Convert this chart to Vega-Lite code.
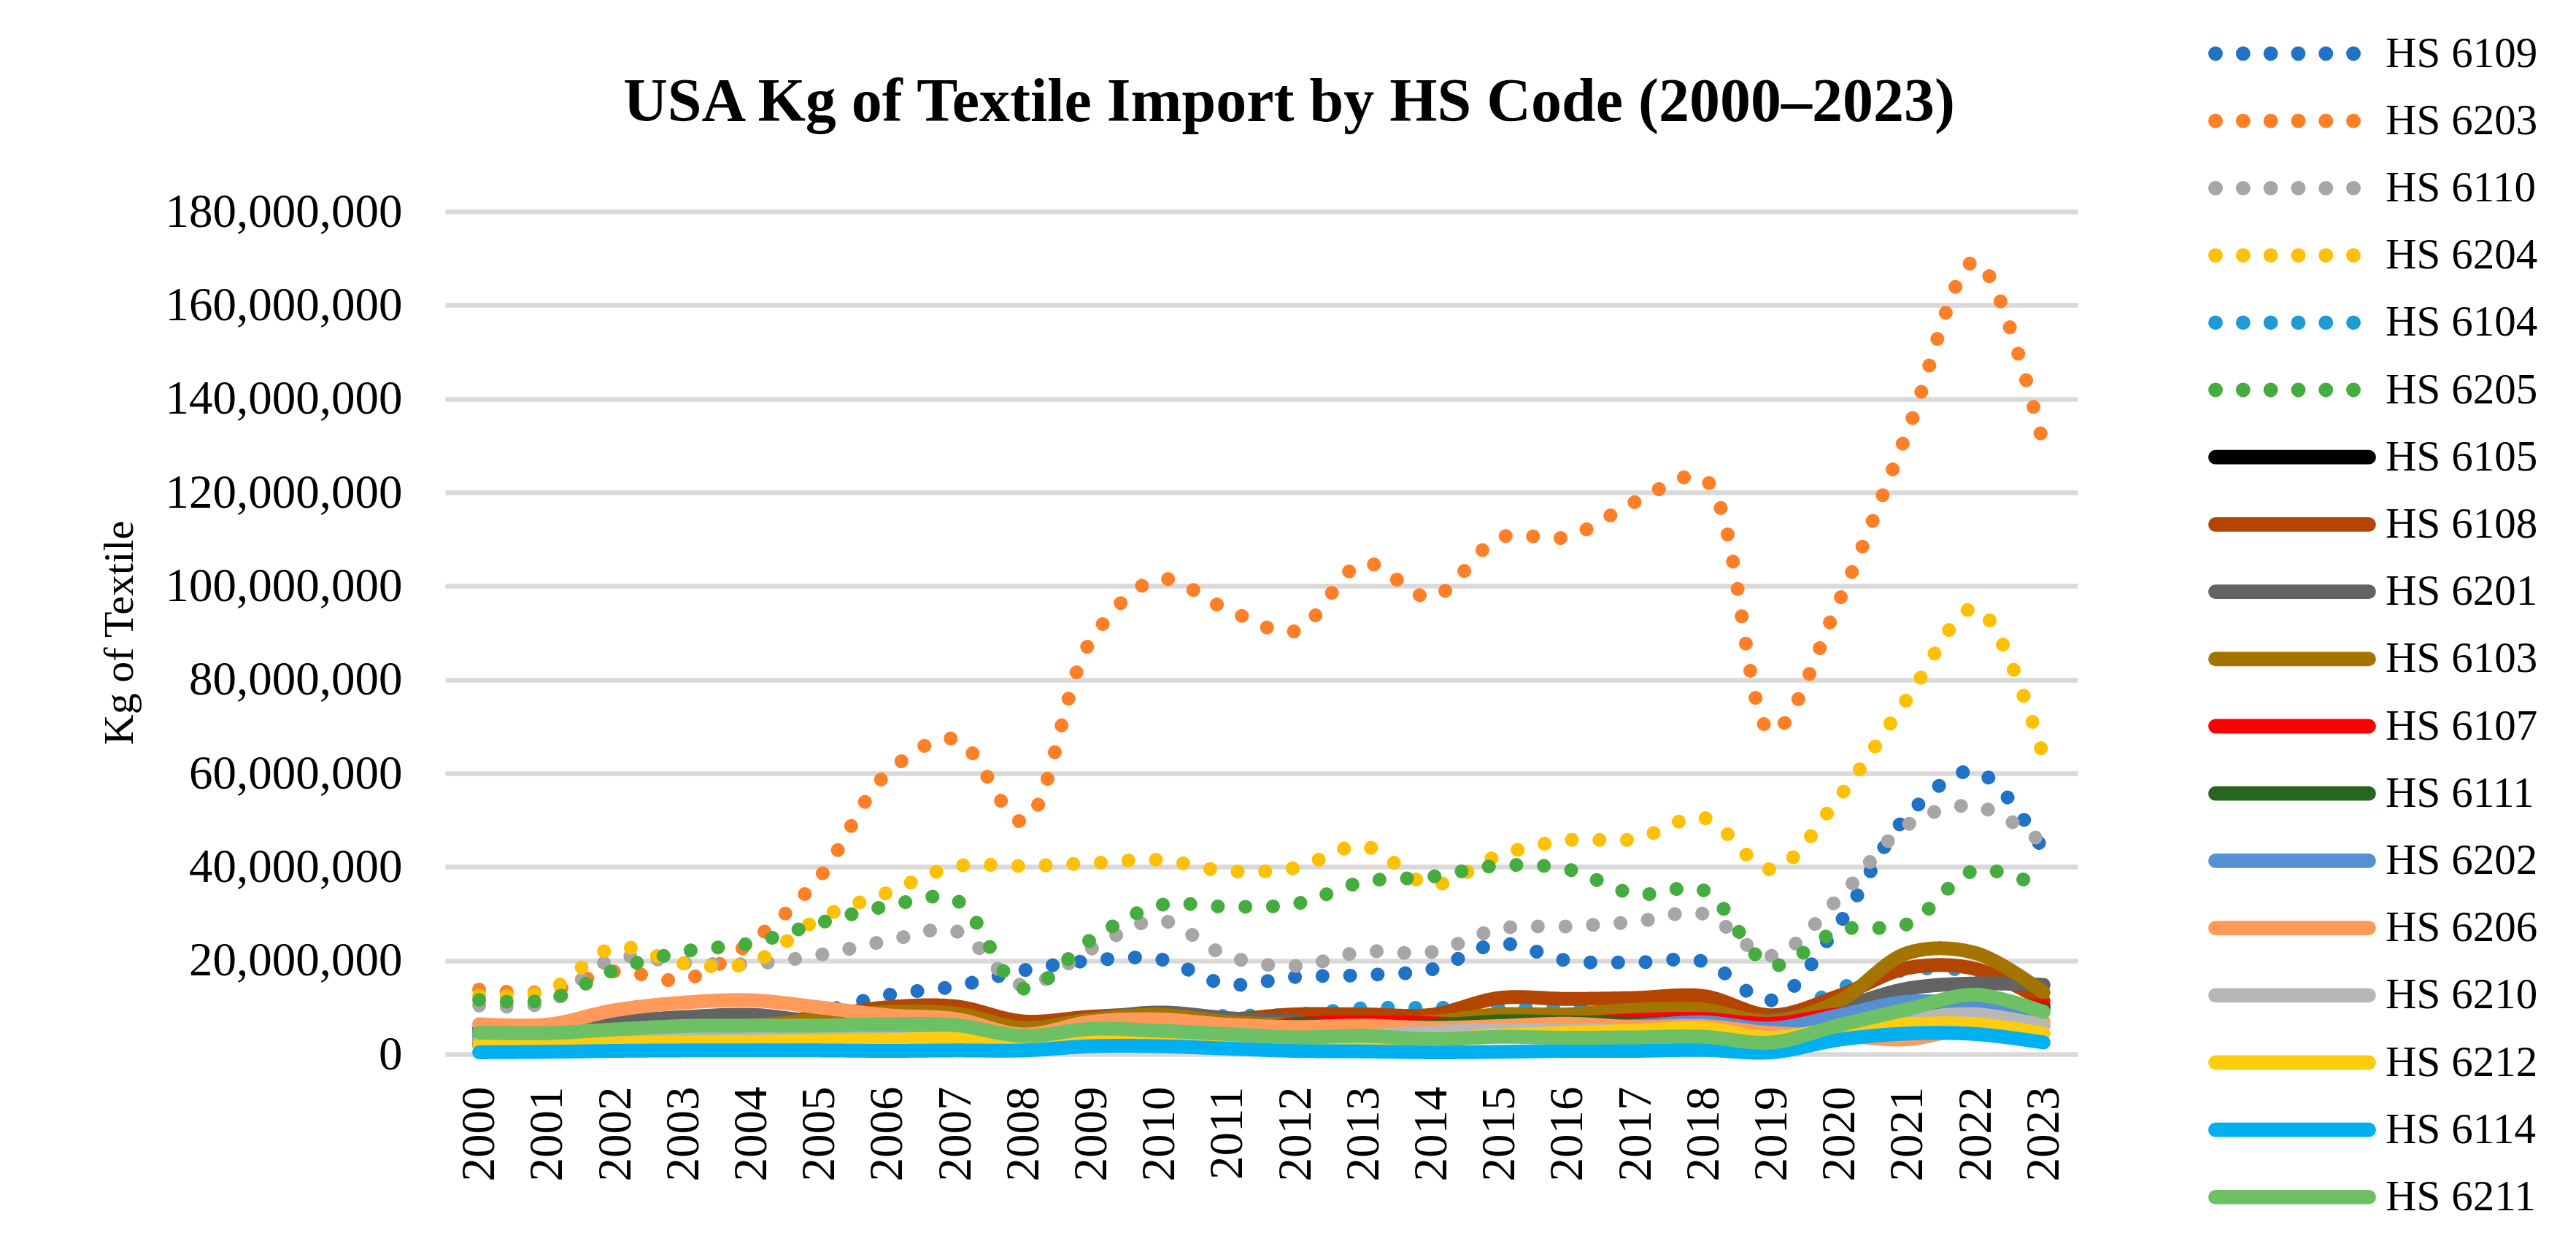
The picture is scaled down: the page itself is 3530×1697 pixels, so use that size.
{
  "$schema": "https://vega.github.io/schema/vega-lite/v6.json",
  "autosize": {"type": "none"},
  "width": 2237,
  "height": 1155,
  "padding": {"left": 610, "top": 290, "right": 683, "bottom": 252},
  "background": "white",
  "title": {
    "text": "USA Kg of Textile Import by HS Code (2000–2023)",
    "font": "Liberation Serif",
    "fontSize": 84,
    "fontWeight": "bold",
    "color": "black",
    "anchor": "middle",
    "frame": "group",
    "baseline": "alphabetic",
    "offset": 0,
    "dx": 38,
    "dy": 206
  },
  "config": {
    "view": {"stroke": null},
    "font": "Liberation Serif"
  },
  "data": {
    "values": [
      {"series":"HS 6109","year":2000,"kg":5000000},{"series":"HS 6109","year":2001,"kg":5200000},{"series":"HS 6109","year":2002,"kg":6000000},{"series":"HS 6109","year":2003,"kg":6500000},{"series":"HS 6109","year":2004,"kg":7000000},{"series":"HS 6109","year":2005,"kg":9000000},{"series":"HS 6109","year":2006,"kg":12600000},{"series":"HS 6109","year":2007,"kg":14500000},{"series":"HS 6109","year":2008,"kg":17900000},{"series":"HS 6109","year":2009,"kg":20000000},{"series":"HS 6109","year":2010,"kg":20300000},{"series":"HS 6109","year":2011,"kg":14900000},{"series":"HS 6109","year":2012,"kg":16500000},{"series":"HS 6109","year":2013,"kg":16900000},{"series":"HS 6109","year":2014,"kg":18100000},{"series":"HS 6109","year":2015,"kg":23600000},{"series":"HS 6109","year":2016,"kg":20000000},{"series":"HS 6109","year":2017,"kg":19600000},{"series":"HS 6109","year":2018,"kg":19800000},{"series":"HS 6109","year":2019,"kg":11500000},{"series":"HS 6109","year":2020,"kg":28000000},{"series":"HS 6109","year":2021,"kg":51000000},{"series":"HS 6109","year":2022,"kg":60500000},{"series":"HS 6109","year":2023,"kg":43500000},
      {"series":"HS 6203","year":2000,"kg":13800000},{"series":"HS 6203","year":2001,"kg":13400000},{"series":"HS 6203","year":2002,"kg":17700000},{"series":"HS 6203","year":2003,"kg":15900000},{"series":"HS 6203","year":2004,"kg":24000000},{"series":"HS 6203","year":2005,"kg":37700000},{"series":"HS 6203","year":2006,"kg":60000000},{"series":"HS 6203","year":2007,"kg":67300000},{"series":"HS 6203","year":2008,"kg":49700000},{"series":"HS 6203","year":2009,"kg":88500000},{"series":"HS 6203","year":2010,"kg":101500000},{"series":"HS 6203","year":2011,"kg":95000000},{"series":"HS 6203","year":2012,"kg":90400000},{"series":"HS 6203","year":2013,"kg":104900000},{"series":"HS 6203","year":2014,"kg":97600000},{"series":"HS 6203","year":2015,"kg":110300000},{"series":"HS 6203","year":2016,"kg":110500000},{"series":"HS 6203","year":2017,"kg":118000000},{"series":"HS 6203","year":2018,"kg":123000000},{"series":"HS 6203","year":2019,"kg":68900000},{"series":"HS 6203","year":2020,"kg":97000000},{"series":"HS 6203","year":2021,"kg":133000000},{"series":"HS 6203","year":2022,"kg":169400000},{"series":"HS 6203","year":2023,"kg":130000000},
      {"series":"HS 6110","year":2000,"kg":10400000},{"series":"HS 6110","year":2001,"kg":11000000},{"series":"HS 6110","year":2002,"kg":20500000},{"series":"HS 6110","year":2003,"kg":19500000},{"series":"HS 6110","year":2004,"kg":19300000},{"series":"HS 6110","year":2005,"kg":21200000},{"series":"HS 6110","year":2006,"kg":24200000},{"series":"HS 6110","year":2007,"kg":26300000},{"series":"HS 6110","year":2008,"kg":14700000},{"series":"HS 6110","year":2009,"kg":22500000},{"series":"HS 6110","year":2010,"kg":28600000},{"series":"HS 6110","year":2011,"kg":21000000},{"series":"HS 6110","year":2012,"kg":18800000},{"series":"HS 6110","year":2013,"kg":21900000},{"series":"HS 6110","year":2014,"kg":21800000},{"series":"HS 6110","year":2015,"kg":26800000},{"series":"HS 6110","year":2016,"kg":27300000},{"series":"HS 6110","year":2017,"kg":28300000},{"series":"HS 6110","year":2018,"kg":30000000},{"series":"HS 6110","year":2019,"kg":21000000},{"series":"HS 6110","year":2020,"kg":33500000},{"series":"HS 6110","year":2021,"kg":49000000},{"series":"HS 6110","year":2022,"kg":53000000},{"series":"HS 6110","year":2023,"kg":45000000},
      {"series":"HS 6204","year":2000,"kg":12500000},{"series":"HS 6204","year":2001,"kg":13500000},{"series":"HS 6204","year":2002,"kg":22800000},{"series":"HS 6204","year":2003,"kg":19400000},{"series":"HS 6204","year":2004,"kg":19500000},{"series":"HS 6204","year":2005,"kg":29000000},{"series":"HS 6204","year":2006,"kg":34500000},{"series":"HS 6204","year":2007,"kg":40100000},{"series":"HS 6204","year":2008,"kg":40200000},{"series":"HS 6204","year":2009,"kg":40800000},{"series":"HS 6204","year":2010,"kg":41500000},{"series":"HS 6204","year":2011,"kg":39100000},{"series":"HS 6204","year":2012,"kg":39800000},{"series":"HS 6204","year":2013,"kg":44500000},{"series":"HS 6204","year":2014,"kg":36200000},{"series":"HS 6204","year":2015,"kg":42500000},{"series":"HS 6204","year":2016,"kg":45700000},{"series":"HS 6204","year":2017,"kg":46000000},{"series":"HS 6204","year":2018,"kg":50500000},{"series":"HS 6204","year":2019,"kg":39500000},{"series":"HS 6204","year":2020,"kg":55000000},{"series":"HS 6204","year":2021,"kg":76000000},{"series":"HS 6204","year":2022,"kg":95300000},{"series":"HS 6204","year":2023,"kg":63500000},
      {"series":"HS 6104","year":2000,"kg":5000000},{"series":"HS 6104","year":2001,"kg":5000000},{"series":"HS 6104","year":2002,"kg":5500000},{"series":"HS 6104","year":2003,"kg":6000000},{"series":"HS 6104","year":2004,"kg":6500000},{"series":"HS 6104","year":2005,"kg":7000000},{"series":"HS 6104","year":2006,"kg":8000000},{"series":"HS 6104","year":2007,"kg":8500000},{"series":"HS 6104","year":2008,"kg":6500000},{"series":"HS 6104","year":2009,"kg":7500000},{"series":"HS 6104","year":2010,"kg":8000000},{"series":"HS 6104","year":2011,"kg":8200000},{"series":"HS 6104","year":2012,"kg":8500000},{"series":"HS 6104","year":2013,"kg":9800000},{"series":"HS 6104","year":2014,"kg":9900000},{"series":"HS 6104","year":2015,"kg":10000000},{"series":"HS 6104","year":2016,"kg":9800000},{"series":"HS 6104","year":2017,"kg":9800000},{"series":"HS 6104","year":2018,"kg":10000000},{"series":"HS 6104","year":2019,"kg":7000000},{"series":"HS 6104","year":2020,"kg":14000000},{"series":"HS 6104","year":2021,"kg":18000000},{"series":"HS 6104","year":2022,"kg":17500000},{"series":"HS 6104","year":2023,"kg":12000000},
      {"series":"HS 6205","year":2000,"kg":11600000},{"series":"HS 6205","year":2001,"kg":11600000},{"series":"HS 6205","year":2002,"kg":18000000},{"series":"HS 6205","year":2003,"kg":21900000},{"series":"HS 6205","year":2004,"kg":23700000},{"series":"HS 6205","year":2005,"kg":28000000},{"series":"HS 6205","year":2006,"kg":31600000},{"series":"HS 6205","year":2007,"kg":33000000},{"series":"HS 6205","year":2008,"kg":14000000},{"series":"HS 6205","year":2009,"kg":24500000},{"series":"HS 6205","year":2010,"kg":31800000},{"series":"HS 6205","year":2011,"kg":31500000},{"series":"HS 6205","year":2012,"kg":32100000},{"series":"HS 6205","year":2013,"kg":36800000},{"series":"HS 6205","year":2014,"kg":37900000},{"series":"HS 6205","year":2015,"kg":40300000},{"series":"HS 6205","year":2016,"kg":39500000},{"series":"HS 6205","year":2017,"kg":34200000},{"series":"HS 6205","year":2018,"kg":35000000},{"series":"HS 6205","year":2019,"kg":19000000},{"series":"HS 6205","year":2020,"kg":26500000},{"series":"HS 6205","year":2021,"kg":27800000},{"series":"HS 6205","year":2022,"kg":39300000},{"series":"HS 6205","year":2023,"kg":35500000},
      {"series":"HS 6105","year":2000,"kg":2000000},{"series":"HS 6105","year":2001,"kg":2000000},{"series":"HS 6105","year":2002,"kg":2500000},{"series":"HS 6105","year":2003,"kg":2800000},{"series":"HS 6105","year":2004,"kg":2800000},{"series":"HS 6105","year":2005,"kg":2800000},{"series":"HS 6105","year":2006,"kg":2700000},{"series":"HS 6105","year":2007,"kg":2500000},{"series":"HS 6105","year":2008,"kg":2000000},{"series":"HS 6105","year":2009,"kg":2600000},{"series":"HS 6105","year":2010,"kg":2800000},{"series":"HS 6105","year":2011,"kg":3000000},{"series":"HS 6105","year":2012,"kg":5500000},{"series":"HS 6105","year":2013,"kg":5500000},{"series":"HS 6105","year":2014,"kg":5500000},{"series":"HS 6105","year":2015,"kg":6000000},{"series":"HS 6105","year":2016,"kg":6000000},{"series":"HS 6105","year":2017,"kg":6200000},{"series":"HS 6105","year":2018,"kg":6300000},{"series":"HS 6105","year":2019,"kg":4500000},{"series":"HS 6105","year":2020,"kg":7000000},{"series":"HS 6105","year":2021,"kg":8000000},{"series":"HS 6105","year":2022,"kg":9000000},{"series":"HS 6105","year":2023,"kg":9900000},
      {"series":"HS 6108","year":2000,"kg":3000000},{"series":"HS 6108","year":2001,"kg":3000000},{"series":"HS 6108","year":2002,"kg":4000000},{"series":"HS 6108","year":2003,"kg":5000000},{"series":"HS 6108","year":2004,"kg":6000000},{"series":"HS 6108","year":2005,"kg":8000000},{"series":"HS 6108","year":2006,"kg":10000000},{"series":"HS 6108","year":2007,"kg":10200000},{"series":"HS 6108","year":2008,"kg":7000000},{"series":"HS 6108","year":2009,"kg":8000000},{"series":"HS 6108","year":2010,"kg":8500000},{"series":"HS 6108","year":2011,"kg":7500000},{"series":"HS 6108","year":2012,"kg":8500000},{"series":"HS 6108","year":2013,"kg":8500000},{"series":"HS 6108","year":2014,"kg":8400000},{"series":"HS 6108","year":2015,"kg":12000000},{"series":"HS 6108","year":2016,"kg":11800000},{"series":"HS 6108","year":2017,"kg":12000000},{"series":"HS 6108","year":2018,"kg":12400000},{"series":"HS 6108","year":2019,"kg":8300000},{"series":"HS 6108","year":2020,"kg":12500000},{"series":"HS 6108","year":2021,"kg":18400000},{"series":"HS 6108","year":2022,"kg":18200000},{"series":"HS 6108","year":2023,"kg":11400000},
      {"series":"HS 6201","year":2000,"kg":5500000},{"series":"HS 6201","year":2001,"kg":5500000},{"series":"HS 6201","year":2002,"kg":6900000},{"series":"HS 6201","year":2003,"kg":7900000},{"series":"HS 6201","year":2004,"kg":8400000},{"series":"HS 6201","year":2005,"kg":7000000},{"series":"HS 6201","year":2006,"kg":7000000},{"series":"HS 6201","year":2007,"kg":7000000},{"series":"HS 6201","year":2008,"kg":5500000},{"series":"HS 6201","year":2009,"kg":7500000},{"series":"HS 6201","year":2010,"kg":8900000},{"series":"HS 6201","year":2011,"kg":7700000},{"series":"HS 6201","year":2012,"kg":7000000},{"series":"HS 6201","year":2013,"kg":6500000},{"series":"HS 6201","year":2014,"kg":6000000},{"series":"HS 6201","year":2015,"kg":7000000},{"series":"HS 6201","year":2016,"kg":7500000},{"series":"HS 6201","year":2017,"kg":8000000},{"series":"HS 6201","year":2018,"kg":8000000},{"series":"HS 6201","year":2019,"kg":7300000},{"series":"HS 6201","year":2020,"kg":10000000},{"series":"HS 6201","year":2021,"kg":14000000},{"series":"HS 6201","year":2022,"kg":15100000},{"series":"HS 6201","year":2023,"kg":14800000},
      {"series":"HS 6103","year":2000,"kg":4500000},{"series":"HS 6103","year":2001,"kg":4500000},{"series":"HS 6103","year":2002,"kg":5000000},{"series":"HS 6103","year":2003,"kg":5500000},{"series":"HS 6103","year":2004,"kg":6000000},{"series":"HS 6103","year":2005,"kg":7500000},{"series":"HS 6103","year":2006,"kg":9000000},{"series":"HS 6103","year":2007,"kg":8700000},{"series":"HS 6103","year":2008,"kg":5600000},{"series":"HS 6103","year":2009,"kg":7400000},{"series":"HS 6103","year":2010,"kg":8400000},{"series":"HS 6103","year":2011,"kg":6900000},{"series":"HS 6103","year":2012,"kg":6300000},{"series":"HS 6103","year":2013,"kg":6300000},{"series":"HS 6103","year":2014,"kg":6900000},{"series":"HS 6103","year":2015,"kg":8500000},{"series":"HS 6103","year":2016,"kg":8500000},{"series":"HS 6103","year":2017,"kg":9500000},{"series":"HS 6103","year":2018,"kg":9500000},{"series":"HS 6103","year":2019,"kg":7000000},{"series":"HS 6103","year":2020,"kg":11400000},{"series":"HS 6103","year":2021,"kg":21600000},{"series":"HS 6103","year":2022,"kg":21600000},{"series":"HS 6103","year":2023,"kg":13200000},
      {"series":"HS 6107","year":2000,"kg":2500000},{"series":"HS 6107","year":2001,"kg":2500000},{"series":"HS 6107","year":2002,"kg":3000000},{"series":"HS 6107","year":2003,"kg":3300000},{"series":"HS 6107","year":2004,"kg":3300000},{"series":"HS 6107","year":2005,"kg":3200000},{"series":"HS 6107","year":2006,"kg":3000000},{"series":"HS 6107","year":2007,"kg":2800000},{"series":"HS 6107","year":2008,"kg":2500000},{"series":"HS 6107","year":2009,"kg":3000000},{"series":"HS 6107","year":2010,"kg":3200000},{"series":"HS 6107","year":2011,"kg":4000000},{"series":"HS 6107","year":2012,"kg":6400000},{"series":"HS 6107","year":2013,"kg":6800000},{"series":"HS 6107","year":2014,"kg":6600000},{"series":"HS 6107","year":2015,"kg":6000000},{"series":"HS 6107","year":2016,"kg":6500000},{"series":"HS 6107","year":2017,"kg":7300000},{"series":"HS 6107","year":2018,"kg":7500000},{"series":"HS 6107","year":2019,"kg":6500000},{"series":"HS 6107","year":2020,"kg":8500000},{"series":"HS 6107","year":2021,"kg":8500000},{"series":"HS 6107","year":2022,"kg":9500000},{"series":"HS 6107","year":2023,"kg":10400000},
      {"series":"HS 6111","year":2000,"kg":2200000},{"series":"HS 6111","year":2001,"kg":2300000},{"series":"HS 6111","year":2002,"kg":2800000},{"series":"HS 6111","year":2003,"kg":3000000},{"series":"HS 6111","year":2004,"kg":3000000},{"series":"HS 6111","year":2005,"kg":3000000},{"series":"HS 6111","year":2006,"kg":2800000},{"series":"HS 6111","year":2007,"kg":2600000},{"series":"HS 6111","year":2008,"kg":2200000},{"series":"HS 6111","year":2009,"kg":2800000},{"series":"HS 6111","year":2010,"kg":3000000},{"series":"HS 6111","year":2011,"kg":3500000},{"series":"HS 6111","year":2012,"kg":6200000},{"series":"HS 6111","year":2013,"kg":5500000},{"series":"HS 6111","year":2014,"kg":6000000},{"series":"HS 6111","year":2015,"kg":7000000},{"series":"HS 6111","year":2016,"kg":6800000},{"series":"HS 6111","year":2017,"kg":6500000},{"series":"HS 6111","year":2018,"kg":6500000},{"series":"HS 6111","year":2019,"kg":5000000},{"series":"HS 6111","year":2020,"kg":7500000},{"series":"HS 6111","year":2021,"kg":8300000},{"series":"HS 6111","year":2022,"kg":9300000},{"series":"HS 6111","year":2023,"kg":9500000},
      {"series":"HS 6202","year":2000,"kg":3800000},{"series":"HS 6202","year":2001,"kg":3800000},{"series":"HS 6202","year":2002,"kg":4500000},{"series":"HS 6202","year":2003,"kg":4900000},{"series":"HS 6202","year":2004,"kg":5000000},{"series":"HS 6202","year":2005,"kg":4800000},{"series":"HS 6202","year":2006,"kg":4500000},{"series":"HS 6202","year":2007,"kg":4200000},{"series":"HS 6202","year":2008,"kg":3000000},{"series":"HS 6202","year":2009,"kg":4000000},{"series":"HS 6202","year":2010,"kg":4000000},{"series":"HS 6202","year":2011,"kg":3800000},{"series":"HS 6202","year":2012,"kg":4000000},{"series":"HS 6202","year":2013,"kg":4500000},{"series":"HS 6202","year":2014,"kg":4500000},{"series":"HS 6202","year":2015,"kg":5000000},{"series":"HS 6202","year":2016,"kg":5500000},{"series":"HS 6202","year":2017,"kg":6000000},{"series":"HS 6202","year":2018,"kg":6800000},{"series":"HS 6202","year":2019,"kg":5500000},{"series":"HS 6202","year":2020,"kg":8300000},{"series":"HS 6202","year":2021,"kg":11200000},{"series":"HS 6202","year":2022,"kg":10600000},{"series":"HS 6202","year":2023,"kg":9100000},
      {"series":"HS 6206","year":2000,"kg":6400000},{"series":"HS 6206","year":2001,"kg":6300000},{"series":"HS 6206","year":2002,"kg":9400000},{"series":"HS 6206","year":2003,"kg":11000000},{"series":"HS 6206","year":2004,"kg":11500000},{"series":"HS 6206","year":2005,"kg":10000000},{"series":"HS 6206","year":2006,"kg":8300000},{"series":"HS 6206","year":2007,"kg":7500000},{"series":"HS 6206","year":2008,"kg":4200000},{"series":"HS 6206","year":2009,"kg":6900000},{"series":"HS 6206","year":2010,"kg":7400000},{"series":"HS 6206","year":2011,"kg":6300000},{"series":"HS 6206","year":2012,"kg":5800000},{"series":"HS 6206","year":2013,"kg":6100000},{"series":"HS 6206","year":2014,"kg":5600000},{"series":"HS 6206","year":2015,"kg":6000000},{"series":"HS 6206","year":2016,"kg":6500000},{"series":"HS 6206","year":2017,"kg":5800000},{"series":"HS 6206","year":2018,"kg":6000000},{"series":"HS 6206","year":2019,"kg":4500000},{"series":"HS 6206","year":2020,"kg":4000000},{"series":"HS 6206","year":2021,"kg":3200000},{"series":"HS 6206","year":2022,"kg":6000000},{"series":"HS 6206","year":2023,"kg":7000000},
      {"series":"HS 6210","year":2000,"kg":2700000},{"series":"HS 6210","year":2001,"kg":2800000},{"series":"HS 6210","year":2002,"kg":3000000},{"series":"HS 6210","year":2003,"kg":3200000},{"series":"HS 6210","year":2004,"kg":3300000},{"series":"HS 6210","year":2005,"kg":3300000},{"series":"HS 6210","year":2006,"kg":3400000},{"series":"HS 6210","year":2007,"kg":3300000},{"series":"HS 6210","year":2008,"kg":2500000},{"series":"HS 6210","year":2009,"kg":3000000},{"series":"HS 6210","year":2010,"kg":3500000},{"series":"HS 6210","year":2011,"kg":3400000},{"series":"HS 6210","year":2012,"kg":3500000},{"series":"HS 6210","year":2013,"kg":3800000},{"series":"HS 6210","year":2014,"kg":4700000},{"series":"HS 6210","year":2015,"kg":5100000},{"series":"HS 6210","year":2016,"kg":5000000},{"series":"HS 6210","year":2017,"kg":5000000},{"series":"HS 6210","year":2018,"kg":5000000},{"series":"HS 6210","year":2019,"kg":3500000},{"series":"HS 6210","year":2020,"kg":5500000},{"series":"HS 6210","year":2021,"kg":7500000},{"series":"HS 6210","year":2022,"kg":8500000},{"series":"HS 6210","year":2023,"kg":6100000},
      {"series":"HS 6212","year":2000,"kg":1900000},{"series":"HS 6212","year":2001,"kg":2000000},{"series":"HS 6212","year":2002,"kg":2300000},{"series":"HS 6212","year":2003,"kg":2500000},{"series":"HS 6212","year":2004,"kg":2600000},{"series":"HS 6212","year":2005,"kg":2800000},{"series":"HS 6212","year":2006,"kg":3000000},{"series":"HS 6212","year":2007,"kg":3300000},{"series":"HS 6212","year":2008,"kg":2500000},{"series":"HS 6212","year":2009,"kg":3700000},{"series":"HS 6212","year":2010,"kg":3300000},{"series":"HS 6212","year":2011,"kg":3000000},{"series":"HS 6212","year":2012,"kg":2800000},{"series":"HS 6212","year":2013,"kg":3000000},{"series":"HS 6212","year":2014,"kg":3000000},{"series":"HS 6212","year":2015,"kg":4000000},{"series":"HS 6212","year":2016,"kg":4500000},{"series":"HS 6212","year":2017,"kg":5000000},{"series":"HS 6212","year":2018,"kg":5500000},{"series":"HS 6212","year":2019,"kg":3500000},{"series":"HS 6212","year":2020,"kg":5500000},{"series":"HS 6212","year":2021,"kg":6400000},{"series":"HS 6212","year":2022,"kg":6400000},{"series":"HS 6212","year":2023,"kg":4400000},
      {"series":"HS 6114","year":2000,"kg":400000},{"series":"HS 6114","year":2001,"kg":500000},{"series":"HS 6114","year":2002,"kg":700000},{"series":"HS 6114","year":2003,"kg":800000},{"series":"HS 6114","year":2004,"kg":800000},{"series":"HS 6114","year":2005,"kg":800000},{"series":"HS 6114","year":2006,"kg":700000},{"series":"HS 6114","year":2007,"kg":800000},{"series":"HS 6114","year":2008,"kg":800000},{"series":"HS 6114","year":2009,"kg":1700000},{"series":"HS 6114","year":2010,"kg":1700000},{"series":"HS 6114","year":2011,"kg":1200000},{"series":"HS 6114","year":2012,"kg":700000},{"series":"HS 6114","year":2013,"kg":600000},{"series":"HS 6114","year":2014,"kg":400000},{"series":"HS 6114","year":2015,"kg":500000},{"series":"HS 6114","year":2016,"kg":700000},{"series":"HS 6114","year":2017,"kg":700000},{"series":"HS 6114","year":2018,"kg":900000},{"series":"HS 6114","year":2019,"kg":400000},{"series":"HS 6114","year":2020,"kg":3100000},{"series":"HS 6114","year":2021,"kg":4400000},{"series":"HS 6114","year":2022,"kg":4300000},{"series":"HS 6114","year":2023,"kg":2500000},
      {"series":"HS 6211","year":2000,"kg":4600000},{"series":"HS 6211","year":2001,"kg":4500000},{"series":"HS 6211","year":2002,"kg":5300000},{"series":"HS 6211","year":2003,"kg":6000000},{"series":"HS 6211","year":2004,"kg":6100000},{"series":"HS 6211","year":2005,"kg":6100000},{"series":"HS 6211","year":2006,"kg":6400000},{"series":"HS 6211","year":2007,"kg":6200000},{"series":"HS 6211","year":2008,"kg":3900000},{"series":"HS 6211","year":2009,"kg":5400000},{"series":"HS 6211","year":2010,"kg":5000000},{"series":"HS 6211","year":2011,"kg":4300000},{"series":"HS 6211","year":2012,"kg":3600000},{"series":"HS 6211","year":2013,"kg":3900000},{"series":"HS 6211","year":2014,"kg":3200000},{"series":"HS 6211","year":2015,"kg":3700000},{"series":"HS 6211","year":2016,"kg":3500000},{"series":"HS 6211","year":2017,"kg":3600000},{"series":"HS 6211","year":2018,"kg":3700000},{"series":"HS 6211","year":2019,"kg":2500000},{"series":"HS 6211","year":2020,"kg":6200000},{"series":"HS 6211","year":2021,"kg":9600000},{"series":"HS 6211","year":2022,"kg":12700000},{"series":"HS 6211","year":2023,"kg":9000000}
    ]
  },
  "mark": {
    "type": "line",
    "interpolate": "catmull-rom",
    "strokeWidth": 19,
    "strokeCap": "round",
    "strokeJoin": "round"
  },
  "encoding": {
    "x": {
      "field": "year",
      "type": "ordinal",
      "scale": {"type": "point", "padding": 0.5},
      "axis": {
        "title": null,
        "labelAngle": -90,
        "labelFont": "Liberation Serif",
        "labelFontSize": 65,
        "labelColor": "black",
        "labelPadding": 44,
        "ticks": false,
        "domain": false,
        "grid": false
      }
    },
    "y": {
      "field": "kg",
      "type": "quantitative",
      "scale": {"domain": [0, 180000000], "nice": false},
      "axis": {
        "title": "Kg of Textile",
        "titleFont": "Liberation Serif",
        "titleFontSize": 58,
        "titleFontWeight": "normal",
        "titleColor": "black",
        "titleAngle": 270,
        "titleAlign": "center",
        "titleBaseline": "alphabetic",
        "titleX": -429,
        "titleY": 577,
        "values": [0, 20000000, 40000000, 60000000, 80000000, 100000000, 120000000, 140000000, 160000000, 180000000],
        "format": ",d",
        "labelFont": "Liberation Serif",
        "labelFontSize": 65,
        "labelColor": "black",
        "labelPadding": 59,
        "labelLimit": 0,
        "ticks": false,
        "domain": false,
        "grid": true,
        "gridColor": "#d9d9d9",
        "gridWidth": 6.5
      }
    },
    "color": {
      "field": "series",
      "type": "nominal",
      "sort": null,
      "scale": {
        "domain": ["HS 6109","HS 6203","HS 6110","HS 6204","HS 6104","HS 6205","HS 6105","HS 6108","HS 6201","HS 6103","HS 6107","HS 6111","HS 6202","HS 6206","HS 6210","HS 6212","HS 6114","HS 6211"],
        "range": ["#1f72c6","#ff7f27","#a6a6a6","#ffc000","#1e9bd7","#45ad3f","#000000","#b34500","#636363","#a57400","#ff0000","#27661e","#5590d3","#ff9a5a","#b7b7b7","#ffcd0d","#00b0f0","#6dc063"]
      },
      "legend": {
        "title": null,
        "orient": "none",
        "legendX": 2416,
        "legendY": -246,
        "symbolType": "stroke",
        "symbolSize": 44100,
        "symbolStrokeWidth": 19.8,
        "clipHeight": 59,
        "labelFont": "Liberation Serif",
        "labelFontSize": 59,
        "labelColor": "black",
        "labelLimit": 0,
        "labelOffset": 13,
        "rowPadding": 32.2,
        "padding": 0,
        "symbolOffset": 0,
        "encode": {"symbols": {"update": {"strokeCap": {"value": "round"}}}}
      }
    },
    "strokeDash": {
      "field": "series",
      "type": "nominal",
      "sort": null,
      "scale": {
        "domain": ["HS 6109","HS 6203","HS 6110","HS 6204","HS 6104","HS 6205","HS 6105","HS 6108","HS 6201","HS 6103","HS 6107","HS 6111","HS 6202","HS 6206","HS 6210","HS 6212","HS 6114","HS 6211"],
        "range": [[0.1,37.7],[0.1,37.7],[0.1,37.7],[0.1,37.7],[0.1,37.7],[0.1,37.7],[1,0],[1,0],[1,0],[1,0],[1,0],[1,0],[1,0],[1,0],[1,0],[1,0],[1,0],[1,0]]
      }
    }
  }
}
